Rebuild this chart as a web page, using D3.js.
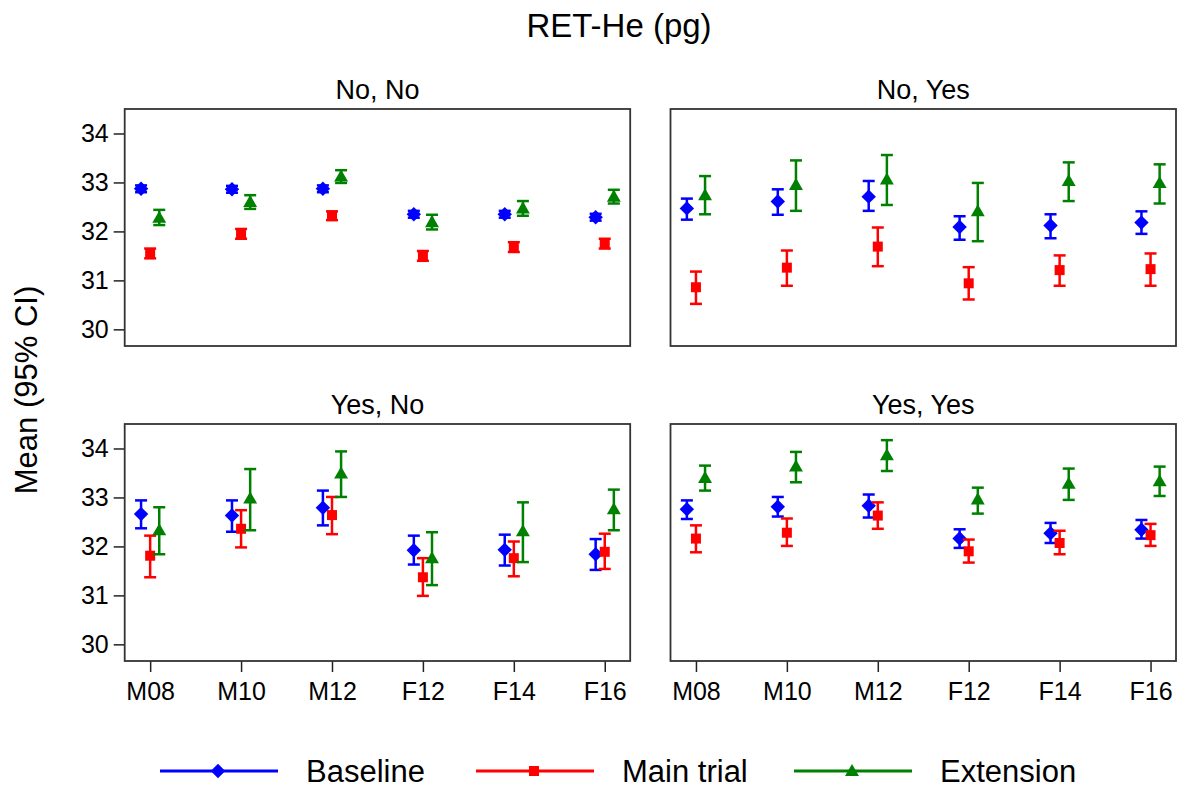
<!DOCTYPE html>
<html>
<head>
<meta charset="utf-8">
<script src="https://cdn.jsdelivr.net/npm/d3@7"></script>
<style>
  body { margin: 0; background: #fff; }
  text { font-family: "Liberation Sans", Arial, sans-serif; fill: #000; }
</style>
</head>
<body>
<svg id="chart" width="1179" height="792"></svg>
<script>
// categories and panels
const groups = ["M08", "M10", "M12", "F12", "F14", "F16"];
const panels = ["No, No", "No, Yes", "Yes, No", "Yes, Yes"];
const yTicks = [30, 31, 32, 33, 34];
const seriesNames = ["Baseline", "Main trial", "Extension"];

// means and 95% CI per panel (rows = panels, cols = groups)
const baseline_mean = [
  [32.87, 32.86, 32.87, 32.35, 32.35, 32.29],
  [32.47, 32.61, 32.71, 32.09, 32.12, 32.18],
  [32.66, 32.63, 32.79, 31.92, 31.93, 31.84],
  [32.76, 32.81, 32.83, 32.16, 32.27, 32.34]
];
const baseline_lo = [
  [32.80, 32.79, 32.80, 32.28, 32.28, 32.22],
  [32.24, 32.34, 32.42, 31.83, 31.86, 31.95],
  [32.37, 32.30, 32.43, 31.63, 31.61, 31.52],
  [32.56, 32.61, 32.59, 31.97, 32.07, 32.16]
];
const baseline_hi = [
  [32.94, 32.93, 32.94, 32.42, 32.42, 32.36],
  [32.67, 32.86, 33.03, 32.31, 32.35, 32.41],
  [32.94, 32.94, 33.14, 32.22, 32.24, 32.15],
  [32.94, 33.01, 33.06, 32.35, 32.48, 32.54]
];

const main_mean = [
  [31.55, 31.95, 32.32, 31.50, 31.68, 31.75],
  [30.86, 31.26, 31.69, 30.94, 31.21, 31.23],
  [31.81, 32.36, 32.64, 31.37, 31.76, 31.89],
  [32.16, 32.28, 32.63, 31.90, 32.07, 32.23]
];
const main_lo = [
  [31.45, 31.85, 32.23, 31.40, 31.58, 31.65],
  [30.52, 30.89, 31.29, 30.61, 30.89, 30.89],
  [31.37, 31.98, 32.25, 30.99, 31.39, 31.54],
  [31.88, 32.01, 32.36, 31.67, 31.84, 32.01]
];
const main_hi = [
  [31.65, 32.05, 32.41, 31.60, 31.78, 31.85],
  [31.18, 31.61, 32.08, 31.27, 31.51, 31.55],
  [32.22, 32.74, 33.01, 31.76, 32.10, 32.26],
  [32.43, 32.57, 32.90, 32.14, 32.32, 32.46]
];

const ext_mean = [
  [32.28, 32.60, 33.12, 32.19, 32.47, 32.71],
  [32.74, 32.95, 33.06, 32.41, 33.03, 32.99],
  [32.33, 32.98, 33.49, 31.76, 32.31, 32.76],
  [33.40, 33.63, 33.86, 32.96, 33.28, 33.33]
];
const ext_lo = [
  [32.13, 32.46, 32.99, 32.04, 32.32, 32.57],
  [32.35, 32.42, 32.54, 31.80, 32.62, 32.57],
  [31.84, 32.33, 33.01, 31.21, 31.68, 32.33],
  [33.14, 33.31, 33.54, 32.67, 32.95, 33.03]
];
const ext_hi = [
  [32.44, 32.74, 33.25, 32.34, 32.62, 32.85],
  [33.13, 33.45, 33.56, 32.99, 33.41, 33.37],
  [32.80, 33.58, 33.94, 32.29, 32.90, 33.16],
  [33.65, 33.93, 34.17, 33.20, 33.59, 33.63]
];

const seriesMean = [baseline_mean, main_mean, ext_mean];
const seriesLo = [baseline_lo, main_lo, ext_lo];
const seriesHi = [baseline_hi, main_hi, ext_hi];
const colors = ["#0000ff", "#ff0000", "#008000"];
const offsets = [-0.1, 0, 0.1];

let svg = d3.select("#chart");

let pw = 505.5, ph = 237;
let colX = [124.7, 670.5];
let rowY = [109, 424];

let x = d3.scaleLinear().domain([0.72, 6.28]).range([0, pw]);
let y = d3.scaleLinear().domain([29.66, 34.5]).range([ph, 0]);

// marker symbols
const diamond = d3.symbol().type(d3.symbolSquare).size(104);
const square = d3.symbol().type(d3.symbolSquare).size(100);
const triangle = d3.symbol().type(d3.symbolTriangle).size(84);

function drawMarker(g, s, cx, cy) {
    if (s == 0) {
        g.append("path").attr("d", diamond())
            .attr("transform", "translate(" + cx + "," + cy + ") rotate(45)")
            .attr("fill", colors[s]);
    } else if (s == 1) {
        g.append("path").attr("d", square())
            .attr("transform", "translate(" + cx + "," + cy + ")")
            .attr("fill", colors[s]);
    } else {
        g.append("path").attr("d", triangle())
            .attr("transform", "translate(" + cx + "," + (cy + 1) + ")")
            .attr("fill", colors[s]);
    }
}

// title
svg.append("text")
    .attr("x", 619).attr("y", 37)
    .attr("text-anchor", "middle")
    .style("font-size", "33px")
    .text("RET-He (pg)");

// y label
svg.append("text")
    .attr("transform", "translate(37,390) rotate(-90)")
    .attr("text-anchor", "middle")
    .style("font-size", "31px")
    .text("Mean (95% CI)");

panels.forEach(function (title, p) {
    let row = Math.floor(p / 2), col = p % 2;
    let g = svg.append("g")
        .attr("transform", "translate(" + colX[col] + "," + rowY[row] + ")");

    g.append("text")
        .attr("x", pw / 2).attr("y", -10.5)
        .attr("text-anchor", "middle")
        .style("font-size", "27px")
        .text(title);

    if (col == 0) {
        let ya = g.append("g")
            .call(d3.axisLeft(y).tickValues(yTicks).tickFormat(d3.format("d"))
                .tickSize(11).tickPadding(5));
        ya.select(".domain").remove();
        ya.selectAll("line").attr("stroke", "#222").attr("stroke-width", 1.5);
        ya.selectAll("text")
            .style("font-size", "25px")
            .style("font-family", "'Liberation Sans', Arial, sans-serif");
    }

    if (row == 1) {
        let xa = g.append("g")
            .attr("transform", "translate(0," + ph + ")")
            .call(d3.axisBottom(x).tickValues([1, 2, 3, 4, 5, 6])
                .tickFormat(function (d) { return groups[d - 1]; })
                .tickSize(11).tickPadding(10));
        xa.select(".domain").remove();
        xa.selectAll("line").attr("stroke", "#222").attr("stroke-width", 1.5);
        xa.selectAll("text")
            .style("font-size", "25px")
            .style("font-family", "'Liberation Sans', Arial, sans-serif");
    }

    // series
    for (let s = 0; s < 3; s++) {
        let sg = g.append("g");
        groups.forEach(function (grp, i) {
            let cx = x(i + 1 + offsets[s]);
            let lo = y(seriesLo[s][p][i]), hi = y(seriesHi[s][p][i]);
            sg.append("line")
                .attr("x1", cx).attr("x2", cx).attr("y1", lo).attr("y2", hi)
                .attr("stroke", colors[s]).attr("stroke-width", 2.5);
            [lo, hi].forEach(function (yy) {
                sg.append("line")
                    .attr("x1", cx - 6).attr("x2", cx + 6).attr("y1", yy).attr("y2", yy)
                    .attr("stroke", colors[s]).attr("stroke-width", 2.5);
            });
            drawMarker(sg, s, cx, y(seriesMean[s][p][i]));
        });
    }

    g.append("rect")
        .attr("width", pw).attr("height", ph)
        .attr("fill", "none")
        .attr("stroke", "#333").attr("stroke-width", 1.8);
});

// legend
const legX = [160, 476, 794];
let leg = svg.append("g").attr("transform", "translate(0,771)");
seriesNames.forEach(function (name, s) {
    let lx = legX[s];
    leg.append("line")
        .attr("x1", lx).attr("x2", lx + 118)
        .attr("stroke", colors[s]).attr("stroke-width", 3);
    drawMarker(leg, s, lx + 58, 0);
    leg.append("text")
        .attr("x", lx + 146).attr("y", 11)
        .style("font-size", "31px")
        .text(name);
});
</script>
</body>
</html>
